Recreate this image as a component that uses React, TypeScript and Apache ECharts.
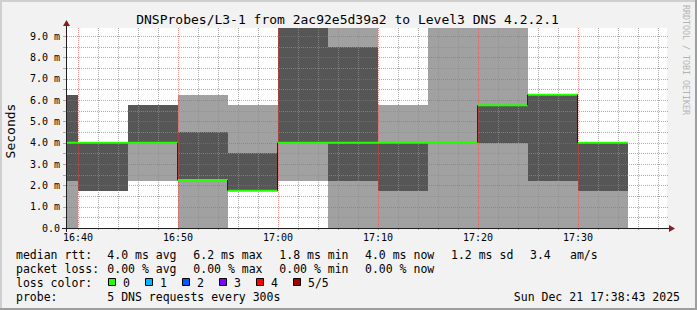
import React, { useEffect, useRef } from 'react';
import * as echarts from 'echarts';

// ---- data (times are HH:MM, each step covers 5 minutes after its start) ----
const stepStarts = ['16:35', '16:40', '16:45', '16:50', '16:55', '17:00', '17:05', '17:10', '17:15', '17:20', '17:25', '17:30'];
const stepLength = 5; // minutes
// sorted DNS ping times per step (ms): smoke light = min..max, dark = low..high
const rttMin = [0.0, 1.75, 2.2, 0.0, 1.75, 2.2, 0.0, 0.0, 0.0, 0.0, 0.0, 0.0];
const rttLow = [2.2, 1.75, 4.0, 2.25, 1.75, 4.0, 2.2, 1.75, 4.0, 4.0, 2.2, 1.75];
const rttMedian = [4.0, 4.0, 4.0, 2.25, 1.75, 4.0, 4.0, 4.0, 4.0, 5.75, 6.25, 4.0];
const rttHigh = [6.25, 4.0, 5.75, 4.5, 3.5, 10.2, 8.5, 4.0, 4.0, 5.75, 6.25, 4.0];
const rttMax = [6.25, 4.0, 5.75, 6.25, 5.75, 11.0, 10.6, 5.75, 10.8, 10.1, 6.25, 4.0];

const xTickLabels = ['16:40', '16:50', '17:00', '17:10', '17:20', '17:30'];
const yTickLabels = ['0.0', '1.0 m', '2.0 m', '3.0 m', '4.0 m', '5.0 m', '6.0 m', '7.0 m', '8.0 m', '9.0 m'];

const rttValues = ['4.0', '6.2', '1.8', '4.0', '1.2'];
const rttKeys = ['avg', 'max', 'min', 'now', 'sd'];
const amValue = '3.4';
const lossValues = ['0.00', '0.00', '0.00', '0.00'];
const lossKeys = ['avg', 'max', 'min', 'now'];
const lossLabels = ['0', '1', '2', '3', '4', '5/5'];
const lossColors = ['#26ff00', '#00b8ff', '#0059ff', '#7e00ff', '#ff0000', '#a10000'];

const titleText = 'DNSProbes/L3-1 from 2ac92e5d39a2 to Level3 DNS 4.2.2.1';
const probeText = '5 DNS requests every 300s';
const dateText = 'Sun Dec 21 17:38:43 2025';

// ---- helpers ----
const baseHour = 16;
const toMin = (s: string) => {
  const [h, m] = s.split(':').map(Number);
  return (h - baseHour) * 60 + m;
};
const X_MIN = toMin('16:38') + 0.9;
const X_MAX = X_MIN + 60;
const Y_MAX = 9.375;
const xTickValues = xTickLabels.map(toMin);

const MONO = '"DejaVu Sans Mono", monospace';
const DARK = '#565656';
const LIGHT = '#a1a1a1';
const GRID = 'rgba(143,143,143,0.75)';
const MGRID = 'rgba(222,79,79,0.6)';
const ARROW = '#801f1f';
const AXIS = '#1f1f1f';

export default function App() {
  const ref = useRef<HTMLDivElement>(null);
  useEffect(() => {
    if (!ref.current) return;
    const chart = echarts.init(ref.current, undefined, { renderer: 'svg' });

    const smokeData = stepStarts.map((s, i) => {
      const a = toMin(s);
      return [a, a + stepLength, rttMin[i], rttLow[i], rttMedian[i], rttHigh[i], rttMax[i]];
    });
    const medianData = stepStarts.map((s, i) => {
      const a = toMin(s);
      return [a, a + stepLength, rttMedian[i], i > 0 ? rttMedian[i - 1] : rttMedian[i]];
    });

    // grid lines: [orientation(0 vertical,1 horizontal), value, major]
    const gridData: number[][] = [];
    for (let m = Math.ceil(X_MIN / 2) * 2; m < X_MAX; m += 2) {
      if (m % 10 !== 0) gridData.push([0, m, 0]);
    }
    for (let v = 0.5; v < Y_MAX; v += 0.5) {
      if (v % 1 !== 0) gridData.push([1, v, 0]);
    }
    xTickValues.forEach((m) => gridData.push([0, m, 1]));
    for (let v = 1; v < Y_MAX; v += 1) gridData.push([1, v, 1]);

    const text = (x: number, y: number, t: string, size: number, extra: any = {}) => ({
      type: 'text',
      x,
      y,
      z: 100,
      silent: true,
      rotation: extra.rotation || 0,
      style: {
        text: t,
        font: `${size}px ${MONO}`,
        fill: extra.fill || '#000',
        align: extra.align || 'left',
        textAlign: extra.align || 'left',
        verticalAlign: 'middle',
        textVerticalAlign: 'middle',
      },
    });

    const L1 = 254.5, L2 = 268.5, L3 = 282.5, L4 = 296.5;
    const colX = [107.3, 193.3, 279.3, 365, 451];
    const legendFont = 11.5;

    const graphics: any[] = [
      // frame
      { type: 'rect', z: 99, shape: { x: 0, y: 0, width: 697, height: 2 }, style: { fill: '#cfcfcf' } },
      { type: 'rect', z: 99, shape: { x: 0, y: 0, width: 2, height: 310 }, style: { fill: '#cfcfcf' } },
      { type: 'rect', z: 99, shape: { x: 0, y: 308, width: 697, height: 2 }, style: { fill: '#9e9e9e' } },
      { type: 'rect', z: 99, shape: { x: 695, y: 0, width: 2, height: 310 }, style: { fill: '#9e9e9e' } },
      // axes lines and arrows
      { type: 'line', z: 100, shape: { x1: 62, y1: 228.5, x2: 671, y2: 228.5 }, style: { stroke: AXIS, lineWidth: 1 } },
      { type: 'line', z: 100, shape: { x1: 66.5, y1: 232, x2: 66.5, y2: 24 }, style: { stroke: AXIS, lineWidth: 1 } },
      { type: 'polygon', z: 101, shape: { points: [[669, 225], [669, 232], [675, 228.5]] }, style: { fill: ARROW } },
      { type: 'polygon', z: 101, shape: { points: [[63, 26], [70, 26], [66.5, 20]] }, style: { fill: ARROW } },
      // title, unit, watermark
      text(347.5, 19, titleText, 13, { align: 'center' }),
      text(10.5, 131, 'Seconds', 13, { align: 'center', rotation: Math.PI / 2 }),
      text(686, 60, 'RRDTOOL / TOBI OETIKER', 8.3, { align: 'center', rotation: -Math.PI / 2, fill: '#b4b4b4' }),
      // legend
      text(16, L1, 'median rtt:', legendFont),
      ...rttValues.map((v, i) => text(colX[i], L1, `${v} ms ${rttKeys[i]}`, legendFont)),
      text(530, L1, amValue, legendFont),
      text(570, L1, 'am/s', legendFont),
      text(16, L2, 'packet loss:', legendFont),
      ...lossValues.map((v, i) => text(colX[i], L2, `${v} % ${lossKeys[i]}`, legendFont)),
      text(16, L3, 'loss color:', legendFont),
      ...lossLabels.flatMap((lab, i) => [
        {
          type: 'rect',
          z: 100,
          shape: { x: 108.5 + i * 37, y: 278.5, width: 7, height: 7 },
          style: { fill: lossColors[i], stroke: '#000', lineWidth: 1 },
        },
        text(123 + i * 37, L3, lab, legendFont),
      ]),
      text(16, L4, 'probe:', legendFont),
      text(107.3, L4, probeText, legendFont),
      text(680, L4, dateText, legendFont, { align: 'right' }),
    ];

    chart.setOption({
      animation: false,
      backgroundColor: '#f2f2f2',
      grid: {
        left: 67,
        top: 28,
        width: 600,
        height: 200,
        show: true,
        backgroundColor: '#ffffff',
        borderWidth: 0,
        containLabel: false,
        outerBoundsMode: 'none',
      },
      xAxis: {
        type: 'value',
        min: X_MIN,
        max: X_MAX,
        splitNumber: 6,
        minInterval: 10,
        maxInterval: 10,
        axisLine: { show: false },
        axisTick: { show: false },
        splitLine: { show: false },
        axisLabel: {
          show: true,
          margin: 4,
          showMinLabel: false,
          showMaxLabel: false,
          fontFamily: MONO,
          fontSize: 10,
          color: '#000',
          formatter: (v: number) => {
            const idx = xTickValues.findIndex((t) => Math.abs(t - v) < 1e-6);
            return idx >= 0 ? xTickLabels[idx] : '';
          },
        },
      },
      yAxis: {
        type: 'value',
        min: 0,
        max: Y_MAX,
        interval: 1,
        axisLine: { show: false },
        axisTick: { show: false },
        splitLine: { show: false },
        axisLabel: {
          show: true,
          margin: 7,
          showMaxLabel: false,
          fontFamily: MONO,
          fontSize: 10,
          color: '#000',
          formatter: (v: number) => {
            const idx = Math.round(v);
            return Math.abs(idx - v) < 1e-6 && yTickLabels[idx] ? yTickLabels[idx] : '';
          },
        },
      },
      graphic: { elements: graphics },
      series: [
        {
          type: 'custom',
          name: 'smoke',
          z: 2,
          silent: true,
          data: smokeData,
          encode: { x: [0, 1], y: [2, 6] },
          renderItem: (params: any, api: any) => {
            const cs = params.coordSys;
            const top = cs.y;
            const bottom = cs.y + cs.height;
            const clampX = (x: number) => Math.min(Math.max(x, cs.x), cs.x + cs.width);
            const x0 = Math.round(clampX(api.coord([api.value(0), 0])[0]));
            const x1 = Math.round(clampX(api.coord([api.value(1), 0])[0]));
            const yOf = (v: number) => Math.round(Math.min(Math.max(api.coord([api.value(0), v])[1], top), bottom));
            const p1 = yOf(api.value(2));
            const p2 = yOf(api.value(3));
            const p4 = yOf(api.value(5));
            const p5 = yOf(api.value(6));
            if (x1 <= x0) return { type: 'group', children: [] };
            return {
              type: 'group',
              children: [
                { type: 'rect', shape: { x: x0, y: p5, width: x1 - x0, height: p1 - p5 }, style: { fill: LIGHT } },
                { type: 'rect', shape: { x: x0, y: p4, width: x1 - x0, height: p2 - p4 }, style: { fill: DARK } },
              ],
            };
          },
        },
        {
          type: 'custom',
          name: 'grid',
          z: 3,
          silent: true,
          data: gridData,
          encode: { x: 1, y: 1 },
          renderItem: (params: any, api: any) => {
            const cs = params.coordSys;
            const o = api.value(0);
            const v = api.value(1);
            const major = api.value(2) === 1;
            const color = major ? MGRID : GRID;
            if (o === 0) {
              const x = Math.round(api.coord([v, 0])[0]) + 0.5;
              return {
                type: 'group',
                children: [
                  { type: 'line', shape: { x1: x, y1: cs.y, x2: x, y2: cs.y + cs.height }, style: { stroke: color, lineWidth: 1, lineDash: [1, 1] } },
                  { type: 'line', shape: { x1: x, y1: cs.y + cs.height, x2: x, y2: cs.y + cs.height + 2 }, style: { stroke: color, lineWidth: 1 } },
                ],
              };
            }
            const y = Math.round(api.coord([X_MIN, v])[1]) + 0.5;
            return {
              type: 'group',
              children: [
                { type: 'line', shape: { x1: cs.x, y1: y, x2: cs.x + cs.width + 1, y2: y }, style: { stroke: color, lineWidth: 1, lineDash: [1, 1] } },
                { type: 'line', shape: { x1: cs.x - 4, y1: y, x2: cs.x - 1, y2: y }, style: { stroke: color, lineWidth: 1 } },
              ],
            };
          },
        },
        {
          type: 'custom',
          name: 'median',
          z: 4,
          silent: true,
          data: medianData,
          encode: { x: [0, 1], y: [2, 3] },
          renderItem: (params: any, api: any) => {
            const cs = params.coordSys;
            const clampX = (x: number) => Math.min(Math.max(x, cs.x), cs.x + cs.width);
            const x0 = Math.round(clampX(api.coord([api.value(0), 0])[0]));
            const x1 = Math.round(clampX(api.coord([api.value(1), 0])[0]));
            const y = api.coord([api.value(0), api.value(2)])[1];
            const yPrev = api.coord([api.value(0), api.value(3)])[1];
            const children: any[] = [
              { type: 'line', shape: { x1: x0, y1: y, x2: x1, y2: y }, style: { stroke: lossColors[0], lineWidth: 2 } },
            ];
            if (Math.abs(y - yPrev) > 0.5) {
              children.push({
                type: 'line',
                shape: { x1: x0 - 0.5, y1: yPrev, x2: x0 - 0.5, y2: y },
                style: { stroke: '#111', lineWidth: 1, opacity: 0.85 },
              });
            }
            return { type: 'group', children };
          },
        },
      ],
    });
    return () => chart.dispose();
  }, []);
  return <div ref={ref} style={{ position: 'absolute', left: 0, top: 0, width: 697, height: 310 }} />;
}
